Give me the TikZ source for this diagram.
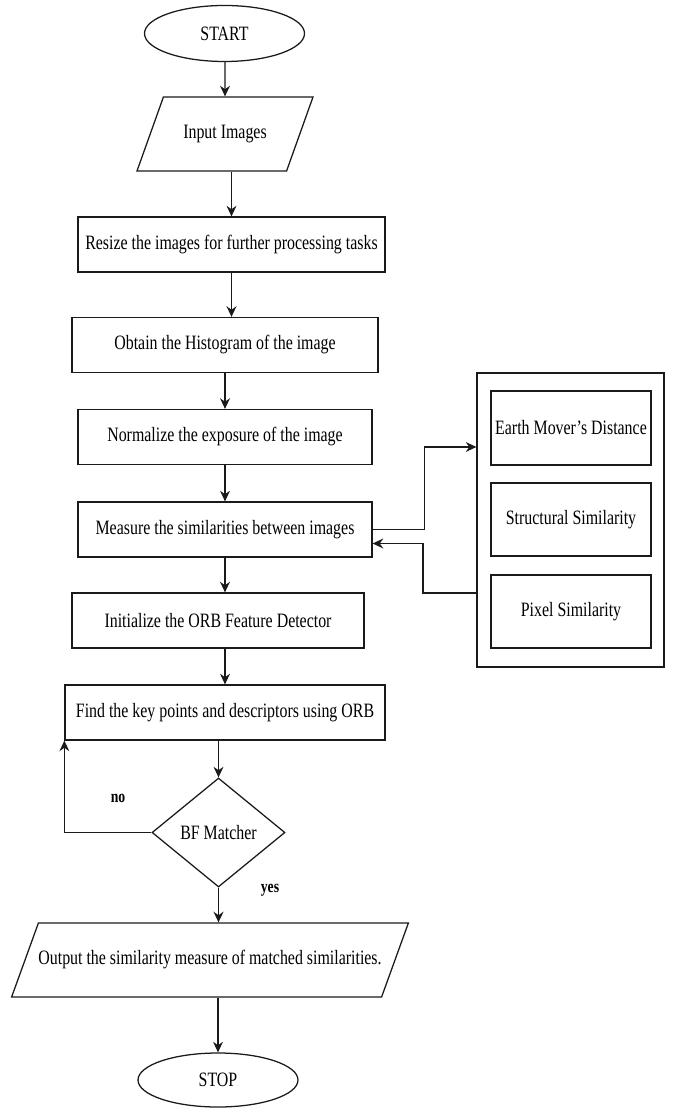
\documentclass[tikz,border=0pt]{standalone}
\usepackage{fontspec}
\setmainfont[FakeStretch=0.78]{Liberation Serif}
\usepackage{tikz}
\usetikzlibrary{arrows.meta,positioning,shapes.geometric,calc}
\definecolor{ink}{HTML}{1A1A1A}
\newdimen\pxu \pxu=0.025cm
\tikzset{
  procbox/.style={rectangle, draw=ink, line width=0.9pt, fill=white,
    minimum width=#1, minimum height=55\pxu,
    font=\fontsize{14.5}{16}\selectfont, align=center, inner sep=0pt},
  procbox/.default=300\pxu,
  ionode/.style={trapezium, trapezium left angle=70, trapezium right angle=110,
    trapezium stretches body=true, draw=ink, line width=0.9pt,
    minimum width=#1, minimum height=74\pxu,
    font=\fontsize{14.5}{16}\selectfont, inner xsep=0pt, inner ysep=19.5pt},
  termnode/.style={ellipse, draw=ink, line width=0.9pt,
    minimum width=160\pxu, minimum height=56\pxu,
    font=\fontsize{14.5}{16}\selectfont, inner sep=0pt},
  decision/.style={diamond, draw=ink, line width=0.9pt,
    minimum width=133\pxu, minimum height=109\pxu,
    font=\fontsize{14.5}{16}\selectfont, inner sep=0pt},
  panelbox/.style={rectangle, draw=ink, line width=0.9pt,
    minimum width=187\pxu, minimum height=294\pxu, inner sep=0pt},
  flaglabel/.style={font=\fontsize{12.5}{14}\selectfont\bfseries, inner sep=1pt},
  flow/.style={-{Stealth[length=7.5pt,width=7pt]}, draw=ink, line width=0.8pt},
  thickflow/.style={line width=1.4pt},
}
\begin{document}
\begin{tikzpicture}[x=0.025cm, y=-0.025cm]
  \useasboundingbox (0,0) rectangle (673,1108);
  % main column
  \node[termnode] (start) at (224.5,33.5) {START};
  \node[ionode=176\pxu] (input) at (225,134) {Input Images};
  \node[procbox=307\pxu] (resize) at (231.5,244.5) {Resize the images for further processing tasks};
  \node[procbox=306\pxu] (obtain) at (225,345) {Obtain the Histogram of the image};
  \node[procbox=294\pxu] (normalize) at (225,437) {Normalize the exposure of the image};
  \node[procbox=294\pxu] (measure) at (225,529.5) {Measure the similarities between images};
  \node[procbox=292\pxu] (init) at (218,620.5) {Initialize the ORB Feature Detector};
  \node[procbox=320\pxu] (find) at (225,712.5) {Find the key points and descriptors using ORB};
  \node[decision] (bf) at (218.5,832.5) {BF Matcher};
  \node[ionode=396\pxu] (output) at (210,960) {Output the similarity measure of matched similarities.};
  \node[termnode, minimum height=54\pxu] (stop) at (218,1080) {STOP};
  % similarity measures
  \node[panelbox] (panel) at (570.5,520) {};
  \node[procbox=160\pxu, minimum height=74\pxu] (emd) at (571,428) {Earth Mover's Distance};
  \node[procbox=160\pxu, minimum height=73\pxu] (ssim) at (571,519.5) {Structural Similarity};
  \node[procbox=160\pxu, minimum height=73\pxu] (pixel) at (571,611.5) {Pixel Similarity};
  \node[flaglabel] (nolbl) at (118,798) {no};
  \node[flaglabel] (yeslbl) at (270,890) {yes};
  \foreach \a/\b in {start/input, input/resize, normalize/measure, init/find, find/bf, output/stop} { \draw[flow] (\a.south -| \b) -- (\b); }
  \foreach \a/\b in {resize/obtain, obtain/normalize, measure/init, bf/output} { \draw[flow, thickflow] (\a) -- (\a.south |- \b.north); }
  \draw[flow] (measure.east) -- ++(52,0) |- ($(panel.west)+(0,-73)$);
  \draw[flow, thickflow] ($(panel.west)+(0,73)$) -- ++(-53,0) |- ($(measure.east)+(0,14)$);
  \draw[flow] (bf.west) -| (find.south west);
\end{tikzpicture}
\end{document}
